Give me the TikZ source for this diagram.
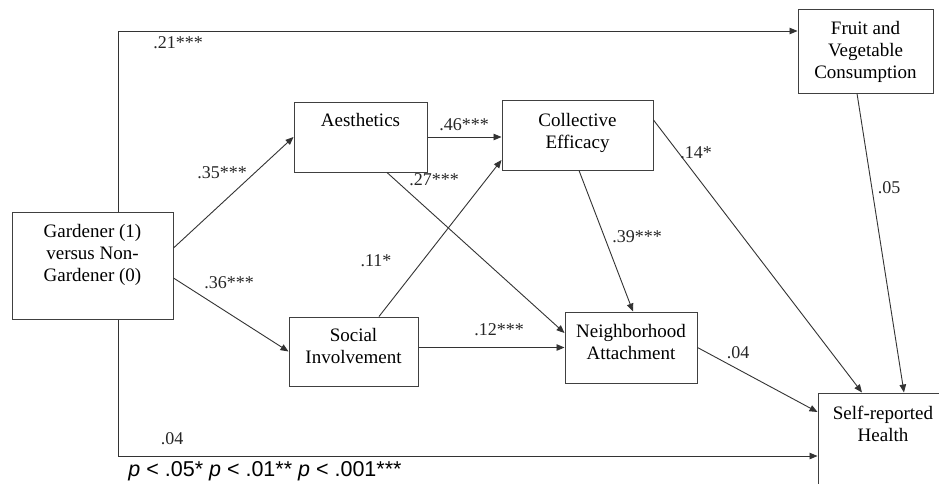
\documentclass[tikz,border=0pt]{standalone}
\usepackage{fontspec}
\setmainfont{Liberation Serif}
\newfontfamily\notefont{Liberation Sans}
\usetikzlibrary{arrows.meta}
\newcommand\bt[2]{\raisebox{#1}[0pt][0pt]{\begin{tabular}[t]{@{}c@{}}#2\end{tabular}}}
\begin{document}
\begin{tikzpicture}[x=1pt,y=-1pt,
  box/.style={draw=black!75, line width=1pt, inner sep=0pt, font=\fontsize{19}{22}\selectfont},
  lbl/.style={font=\fontsize{18}{20}\selectfont, inner sep=0pt, text=black!85},
  conn/.style={draw=black!80, line width=0.9pt, -{Triangle[length=8pt,width=6.5pt]}},
  plain/.style={draw=black!80, line width=0.9pt}]
\useasboundingbox (0,0) rectangle (939,483);
\clip (0,0) rectangle (939,483);
\fill[white] (0,0) rectangle (939,483);
% boxes
\node[box, minimum width=161pt, minimum height=107pt] (gard) at (92.5,265.5) {\bt{28.5pt}{Gardener (1)\\versus Non-\\Gardener (0)}};
\node[box, minimum width=133pt, minimum height=70pt] (aes) at (360.5,137) {\bt{11pt}{Aesthetics}};
\node[box, minimum width=151pt, minimum height=70pt] (coll) at (577.5,135) {\bt{9pt}{Collective\\Efficacy}};
\node[box, minimum width=135pt, minimum height=84pt] (fruit) at (865.5,51) {\bt{17pt}{Fruit and\\Vegetable\\Consumption}};
\node[box, minimum width=129pt, minimum height=69pt] (soc) at (353.5,351.5) {\bt{10.5pt}{Social\\Involvement}};
\node[box, minimum width=132pt, minimum height=71pt] (nbh) at (631,347.5) {\bt{10.5pt}{Neighborhood\\Attachment}};
\node[box, minimum width=130pt, minimum height=110pt] (self) at (883,448) {\bt{29pt}{Self-reported\\Health}};
% connectors
\draw[conn] ([yshift=17.5pt]gard.east) -- (aes.west);
\draw[conn] ([yshift=-12.5pt]gard.east) -- (soc.west);
\draw[conn] ([xshift=25.5pt]gard.north) |- ([yshift=20pt]fruit.west);
\draw[conn] ([xshift=25.5pt]gard.south) |- ([yshift=-8pt]self.west);
\draw[conn] (aes.east) -- (aes.east -| coll.west);
\draw[conn] ([xshift=26.5pt]aes.south) -- ([yshift=14.5pt]nbh.west);
\draw[conn] ([xshift=25.5pt]soc.north) -- ([yshift=-25pt]coll.west);
\draw[conn] (soc.east |- nbh.west) -- (nbh.west);
\draw[conn] ([xshift=1.5pt]coll.south) -- ([xshift=2pt]nbh.north);
\draw[conn] ([yshift=15pt]coll.east) -- ([xshift=-21pt]self.north);
\draw[conn] ([xshift=-8.5pt]fruit.south) -- ([xshift=21pt]self.north);
\draw[conn] (nbh.east) -- ([yshift=36pt]self.west);
% labels
\node[lbl] (l21) at (178,43) {.21***};
\node[lbl] (l35) at (222,173) {.35***};
\node[lbl] (l46) at (464,125) {.46***};
\node[lbl] (l27) at (434,180) {.27***};
\node[lbl] (l11) at (376,261) {.11*};
\node[lbl] (l36) at (229,283) {.36***};
\node[lbl] (l12) at (499,330) {.12***};
\node[lbl] (l39) at (637,237) {.39***};
\node[lbl] (l14) at (696,153) {.14*};
\node[lbl] (l05) at (889,188) {.05};
\node[lbl] (l04a) at (738,353) {.04};
\node[lbl] (l04b) at (172,439) {.04};
\node[inner sep=0pt, font=\notefont\fontsize{21.5}{24}\selectfont] (note) at (265,471) {\textit{p} < .05* \textit{p} < .01** \textit{p} < .001***};
\end{tikzpicture}
\end{document}
